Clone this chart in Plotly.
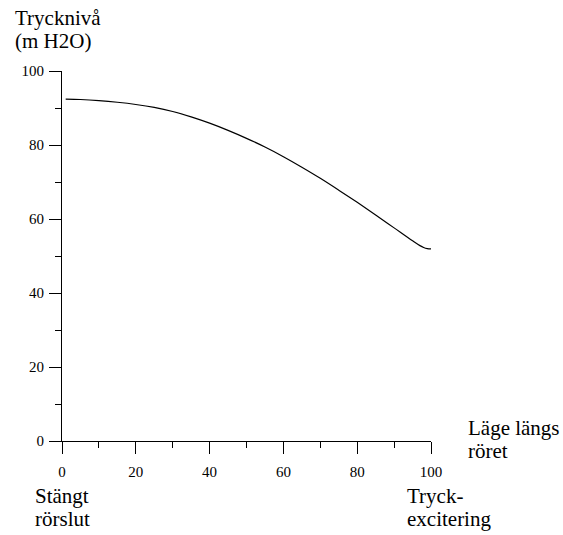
import plotly.graph_objects as go

# Pressure level along the pipe
position = [1, 5, 10, 15, 20, 25, 30, 35, 40, 45, 50, 55, 60, 65, 70,
            75, 80, 85, 90, 95, 97, 98, 99, 100]
pressure = [92.4, 92.3, 92.0, 91.55, 90.95, 90.15, 89.05, 87.6, 85.9, 83.95,
            81.8, 79.45, 76.85, 74.0, 71.0, 67.8, 64.5, 61.1, 57.6, 54.1,
            52.8, 52.3, 52.0, 51.9]

tick_vals = [0, 20, 40, 60, 80, 100]
tick_text = ["0", "20", "40", "60", "80", "100"]

FONT = "Liberation Serif"
TICK_SIZE = 15
LABEL_SIZE = 21

fig = go.Figure()
fig.add_trace(go.Scatter(
    x=position, y=pressure, mode="lines",
    line=dict(color="black", width=1.2, shape="spline", smoothing=1.0),
    hoverinfo="skip", showlegend=False,
))

axis_common = dict(
    range=[0, 100], tickvals=tick_vals, ticktext=tick_text,
    ticks="outside", ticklen=12, tickwidth=1, tickcolor="black",
    showline=True, linecolor="black", linewidth=1,
    showgrid=False, zeroline=False, fixedrange=True,
    tickfont=dict(family=FONT, size=TICK_SIZE, color="black"),
    minor=dict(dtick=10, tick0=0, ticks="outside", ticklen=6,
               tickwidth=1, tickcolor="black", showgrid=False),
)
fig.update_xaxes(**axis_common, ticklabelstandoff=5)
fig.update_yaxes(**axis_common, ticklabelstandoff=2)

# Axis captions, one annotation per text line (x = left edge, y = baseline, px)
captions = [
    ("Trycknivå", 13, 27),
    ("(m H2O)", 13, 50),
    ("Läge längs", 466, 437),
    ("röret", 466, 460),
    ("Stängt", 33, 505),
    ("rörslut", 33, 528),
    ("Tryck-", 405, 505),
    ("excitering", 405, 528),
]
W, H = 563, 535
L, R, T, B = 62, 132, 71, 94
for text, px, py in captions:
    fig.add_annotation(
        text=text, xref="paper", yref="paper",
        x=(px - L) / (W - L - R), y=(H - B - py - 5) / (H - T - B),
        xanchor="left", yanchor="bottom", showarrow=False,
        font=dict(family=FONT, size=LABEL_SIZE, color="black"),
    )

fig.update_layout(
    width=W, height=H,
    margin=dict(l=L, r=R, t=T, b=B),
    paper_bgcolor="white", plot_bgcolor="white",
)

fig.write_html("out.html")
